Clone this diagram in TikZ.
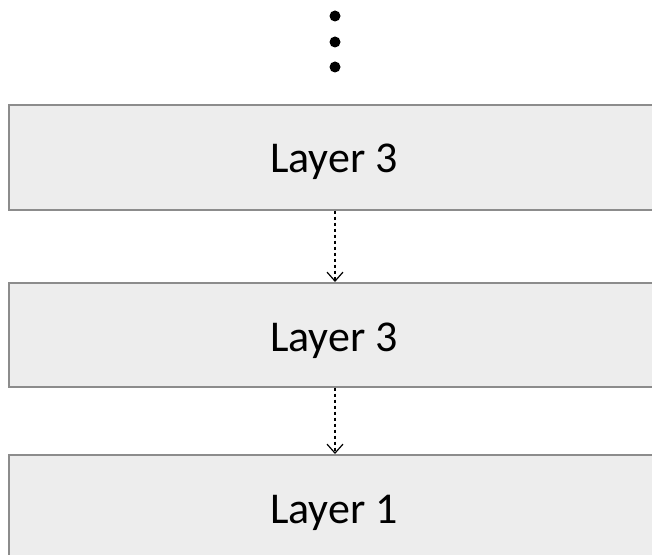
\documentclass[tikz,border=0pt]{standalone}
\usepackage{fontspec}
\setmainfont{Carlito}
\usetikzlibrary{arrows.meta}
\definecolor{layerfill}{HTML}{EDEDED}
\definecolor{layerline}{HTML}{8C8C8C}
\tikzset{
  layerbox/.style={draw=layerline, fill=layerfill, line width=1.6bp,
    minimum width=680bp, inner sep=0pt, anchor=north west},
  layertext/.style={font=\fontsize{44bp}{50bp}\selectfont, text=black, inner sep=0pt},
  dotmark/.style={circle, fill=black, inner sep=0pt, minimum size=11bp},
  flow/.style={dash pattern=on 3.5bp off 2.5bp, line width=1.4bp,
    -{Straight Barb[length=9bp,width=16bp,line width=1.2bp]}}
}
\begin{document}
\begin{tikzpicture}[x=1bp,y=-1bp]
  \useasboundingbox (0,0) rectangle (652,555);
  \clip (0,0) rectangle (652,555);
  % continuation dots above the stack
  \node[dotmark] (d1) at (335,16) {};
  \node[dotmark] (d2) at (335,42) {};
  \node[dotmark] (d3) at (335,67) {};
  % layer stack
  \node[layerbox, minimum height=105bp] (top) at (8,104) {};
  \node[layerbox, minimum height=104bp] (mid) at (8,282) {};
  \node[layerbox, minimum height=110bp] (bot) at (8,454) {};
  % layer captions
  \node[layertext, anchor=base] (ttop) at (334,173) {Layer 3};
  \node[layertext, anchor=base] (tmid) at (334,351) {Layer 3};
  \node[layertext, anchor=base] (tbot) at (334,523) {Layer 1};
  % flow between layers
  \draw[flow] (top.south -| d1) -- (mid.north -| d1);
  \draw[flow] (mid.south -| d1) -- (bot.north -| d1);
\end{tikzpicture}
\end{document}
